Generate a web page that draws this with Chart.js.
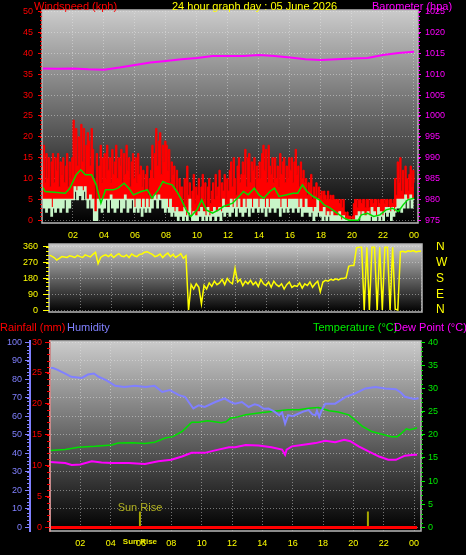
<!DOCTYPE html>
<html>
<head>
<meta charset="utf-8">
<script src="https://cdn.jsdelivr.net/npm/chart.js@4.4.1/dist/chart.umd.min.js"></script>
<style>
  html, body { margin: 0; padding: 0; background: #000; width: 466px; height: 555px; overflow: hidden; }
  canvas { position: absolute; left: 0; }
  .t { position: absolute; z-index: 2; font: 11px "Liberation Sans", Arial, sans-serif; line-height: 12px; white-space: nowrap; }
</style>
</head>
<body>
<canvas id="windChart" width="466" height="242" style="top:0"></canvas>
<canvas id="dirChart" width="466" height="74" style="top:242px"></canvas>
<canvas id="tempChart" width="466" height="239" style="top:316px"></canvas>

<div class="t" style="left:34px;top:0;color:#ff0000">Windspeed (kph)</div>
<div class="t" style="left:172px;top:0;color:#ffff00">24 hour graph day : 05 June 2026</div>
<div class="t" style="left:372px;top:0;color:#ff00ff">Barometer (hpa)</div>
<div class="t" style="left:0;top:321px;color:#ff0000">Rainfall (mm)</div>
<div class="t" style="left:67px;top:321px;color:#8080ff">Humidity</div>
<div class="t" style="left:313px;top:321px;color:#00ee00">Temperature (°C)</div>
<div class="t" style="left:394px;top:321px;color:#ff00ff">Dew Point (°C)</div>

<script>
// ====== Data ======
const hourTicks = [2, 4, 6, 8, 10, 12, 14, 16, 18, 20, 22, 24];
const hourLabels = ["02", "04", "06", "08", "10", "12", "14", "16", "18", "20", "22", "00"];

// gust, 5 minute samples, one row per hour (kph)
const gustKph = [
  13,18,9,16,10,15,8,14,16,9,15,12,
  16,8,14,11,15,9,13,16,8,14,10,15,
  24,11,22,13,20,12,23,14,22,11,18,21,
  19,13,22,17,10,5,16,7,13,18,9,15,
  16,10,18,12,15,9,17,11,14,18,10,15,
  13,17,9,16,11,18,12,15,8,14,16,10,
  15,9,16,11,13,8,12,7,11,13,6,10,
  12,18,10,16,22,13,19,21,11,18,14,19,
  18,12,17,9,14,11,13,7,12,6,10,8,
  8,4,10,3,13,6,9,3,7,11,4,8,
  6,10,4,8,11,5,9,3,8,10,4,7,
  9,5,11,6,8,12,4,9,7,11,5,10,
  7,12,14,8,15,10,6,13,15,9,11,14,
  11,17,8,15,16,9,14,12,15,7,13,10,
  14,10,16,18,12,17,9,18,13,11,15,9,
  15,10,13,8,16,11,14,15,9,13,10,15,
  12,15,9,14,17,11,13,8,14,10,12,9,
  10,6,9,7,11,5,8,6,9,5,8,6,
  7,5,7,6,5,7,5,6,5,6,5,5,
  5,5,4,5,3,5,2,1,2,1,1,0,
  1,4,5,5,3,5,5,4,5,5,3,5,
  5,3,5,5,4,5,5,3,5,4,5,5,
  5,4,5,5,3,5,5,4,5,10,6,14,
  9,15,7,12,6,13,10,7,11,13,8,12,
  9
];

// wind speed, 5 minute samples (kph)
const windKph = [
  5,3,5,2,5,3,5,1,3,5,2,5,
  3,5,2,5,3,5,5,2,5,3,5,5,
  5,8,7,5,8,6,8,5,7,8,5,3,
  5,6,3,5,0,2,0,5,3,5,2,5,
  3,5,5,2,5,6,3,5,2,5,3,5,
  5,2,5,3,6,5,2,5,3,5,5,2,
  3,5,2,5,3,1,5,3,2,5,3,2,
  5,3,5,6,5,3,6,5,5,3,5,2,
  5,3,2,5,1,3,2,1,3,0,2,1,
  2,0,3,1,0,2,5,1,0,2,0,1,
  0,2,1,3,0,2,1,0,3,1,0,2,
  1,3,0,2,1,3,0,2,5,1,3,2,
  3,1,5,2,3,5,1,3,5,2,3,1,
  5,2,3,5,1,5,3,2,5,3,5,2,
  3,5,2,5,3,1,5,3,2,5,3,5,
  2,5,3,5,1,3,5,2,5,3,2,5,
  3,5,2,5,3,5,2,3,5,1,3,2,
  5,2,3,1,3,2,0,3,1,5,2,1,
  2,0,3,1,0,2,1,0,2,0,1,0,
  1,0,2,0,0,1,0,0,0,0,0,0,
  0,0,0,1,0,2,1,0,2,0,1,0,
  2,0,1,3,0,2,0,1,3,0,2,1,
  0,2,3,1,3,2,0,3,1,2,3,5,
  3,5,2,5,3,6,5,3,5,6,3,5,
  5
];

// average wind [hour, kph]
const avgWind = [
  [0,8.1],[0.2,6.9],[0.8,6.7],[1.5,6.5],[1.8,7.7],[2.2,10.9],[2.5,12.1],[2.8,10.9],
  [3.2,10.9],[3.5,8.5],[3.8,4.1],[4.1,7.3],[4.6,7.3],[4.9,7.7],[5.3,8.9],[5.6,7.7],
  [5.9,6.1],[6.4,6.9],[6.8,7.3],[7.1,5.3],[7.5,7.3],[7.8,9.3],[8.0,8.9],[8.4,8.5],
  [8.7,6.9],[9.0,4.9],[9.3,2.5],[9.6,0.9],[10.0,2.5],[10.3,4.9],[10.6,2.5],[11.0,1.7],
  [11.4,2.5],[11.7,3.3],[12.0,3.7],[12.3,4.1],[12.6,5.3],[13.0,6.9],[13.3,6.1],[13.7,7.7],
  [14.0,6.1],[14.3,5.3],[14.7,6.9],[15.0,7.7],[15.3,5.7],[15.8,6.1],[16.2,6.5],[16.5,6.5],
  [16.8,8.5],[17.1,6.9],[17.5,5.7],[17.9,4.9],[18.2,3.7],[18.6,2.9],[18.9,2.1],[19.2,1.3],
  [19.5,0.5],[19.8,0],[20.4,0],[20.6,1.3],[21.0,1.7],[21.4,0.9],[21.8,1.3],[22.2,2.5],
  [22.6,2.9],[23.0,2.1],[23.3,3.7],[23.6,4.9],[24.0,5.3]
];

// barometer, hourly (hPa)
const baroHpa = [
  1011.4,1011.3,1011.4,1011.2,1011.1,1011.6,1012.2,1012.8,1013.2,1013.6,1013.9,1014.4,
  1014.4,1014.4,1014.6,1014.4,1014.0,1013.6,1013.4,1013.6,1013.8,1013.9,1014.6,1015.1,1015.4
];

// wind direction, 10 minute samples (degrees)
const windDir = [
  315,308,300,286,295,305,
  303,300,310,306,300,312,
  305,300,315,309,303,318,
  330,265,300,310,315,305,
  318,300,312,322,308,305,
  315,300,320,310,305,318,
  320,330,333,325,318,305,
  310,320,300,315,325,305,
  318,300,310,322,295,310,
  0,145,120,150,130,35,
  140,120,155,135,165,145,
  155,175,145,180,160,150,
  238,160,175,140,165,150,
  170,145,160,135,175,150,
  140,160,130,165,145,135,
  150,120,145,160,130,140,
  135,155,125,150,140,160,
  130,150,165,105,160,170,
  165,175,170,178,172,180,
  180,185,250,255,255,355,
  358,358,0,358,0,358,
  358,0,358,0,358,358,
  0,358,5,0,333,335,
  330,338,335,340,332,336,
  335
];
const dirTicks = [0, 90, 180, 270, 360];
const dirLetters = ["N", "E", "S", "W", "N"];

// [hour, value]
const humidity = [
  [0,86],[0.2,86],[0.5,85],[1.0,83],[1.4,81.3],[2.1,80.7],[2.5,82.5],[2.9,83.1],[3.2,81.3],
  [3.7,79.5],[4.3,76.4],[4.9,75.8],[5.6,76.4],[6.3,75.8],[6.9,76.4],[7.4,73.1],[7.9,74.1],
  [8.5,71.4],[8.9,70.5],[9.2,67],[9.45,64.2],[9.8,65.9],[10.2,65],[10.9,67.7],[11.5,69.6],
  [11.9,67.7],[12.2,66.8],[12.65,67.7],[13.1,65],[13.5,66.5],[13.76,65.9],[14.1,64],[14.4,64.2],
  [14.8,62.5],[15.1,60.6],[15.3,62],[15.5,56],[15.7,60.6],[16.0,60],[16.4,61.5],[16.7,62.5],
  [17.05,63.3],[17.3,61],[17.5,60.6],[17.6,63],[17.75,59.7],[17.9,63],[18.15,66.8],[18.8,66.8],
  [19.5,70.5],[20.1,72.3],[20.8,75],[21.45,75.8],[22.1,75],[22.8,74.6],[23.1,73],[23.4,70.5],
  [24.0,69.3],[24.3,69.7]
];
const temperature = [
  [0,16.6],[1.0,16.8],[1.87,17.3],[2.97,17.5],[4.07,17.8],[4.5,18.2],[5.4,18.3],[6.26,18.1],
  [6.9,18.4],[7.6,19.3],[8.1,19.6],[8.7,20.7],[9.0,21.6],[9.34,22.7],[9.8,22.7],[10.4,23.0],
  [11.3,22.6],[11.6,22.8],[11.9,23.6],[12.2,23.7],[12.9,24.3],[13.76,24.7],[14.6,25.0],[15.7,25.4],
  [16.4,25.4],[17.05,25.7],[17.7,25.9],[18.4,25.2],[19.0,24.9],[19.7,24.3],[20.1,23.2],[20.6,21.8],
  [21.2,20.7],[21.9,20.1],[22.5,19.6],[22.9,19.6],[23.2,20.4],[23.5,21.3],[23.7,21.1],[24.0,21.3],
  [24.2,21.5]
];
const dewPoint = [
  [0,14.1],[1.0,13.9],[1.43,13.5],[2.0,13.6],[2.75,14.3],[3.4,14.0],[4.07,13.9],[5.2,13.9],
  [6.26,13.7],[7.14,14.3],[8.0,14.6],[8.7,15.3],[9.34,16.1],[10.2,16.1],[11.1,16.8],[11.8,17.3],
  [12.2,17.3],[12.9,17.8],[13.76,17.7],[14.6,17.3],[15.3,16.8],[15.5,15.7],[15.6,16.8],[15.95,17.5],
  [16.6,17.8],[17.5,18.2],[18.15,18.7],[18.8,18.4],[19.4,18.9],[19.8,18.6],[20.35,17.5],[21.0,16.4],
  [21.7,15.3],[22.3,14.6],[22.8,14.6],[23.4,15.5],[24.0,15.7],[24.2,15.7]
];
const rainfall = [[0,0],[24.2,0]];
const sunHours = [5.93, 20.96];   // sun rise, sun set
const sunMarkMm = 2.6;

// ====== Helpers ======
const every = (vals, minutes) => vals.map((v, i) => ({ x: i * minutes / 60, y: v }));
const pairs = list => list.map(([x, y]) => ({ x, y }));
const steps = (from, to, by) => { const out = []; for (let v = from; v <= to; v += by) out.push(v); return out; };
// keep label overhang from shrinking the plot areas
const noPad = s => { s.paddingTop = 0; s.paddingBottom = 0; s.paddingLeft = 0; s.paddingRight = 0; };

const tickFont = { family: "Liberation Sans", size: 9 };
const gridColor = "rgba(235,235,235,0.45)";

const minorTicks = {
  windChart: [
    { id: "y", step: 1, len: 2, color: "#ff0000" },
    { id: "yBaro", step: 1, len: 2, color: "#ff00ff" }
  ],
  dirChart: [{ id: "yDir", step: 22.5, len: 3, color: "#ffff00" }],
  tempChart: [
    { id: "yHum", step: 2, len: 3, color: "#8080ff" },
    { id: "yRain", step: 1, len: 3, color: "#ff0000" },
    { id: "yTemp", step: 1, len: 2, color: "#00ee00" }
  ]
};

// ====== Panel background / frame ======
const panel = {
  id: "panel",
  beforeDraw(chart) {
    const { ctx, chartArea: a } = chart;
    const g = ctx.createLinearGradient(0, a.top, 0, a.bottom);
    g.addColorStop(0, "#cbcbcb");
    g.addColorStop(1, "#000000");
    ctx.save();
    ctx.fillStyle = g;
    ctx.fillRect(a.left, a.top, a.right - a.left, a.bottom - a.top);
    ctx.restore();
  },
  afterDraw(chart) {
    const { ctx, chartArea: a } = chart;
    ctx.save();
    ctx.strokeStyle = "#b8b8b8";
    ctx.lineWidth = 1.5;
    ctx.strokeRect(a.left, a.top, a.right - a.left, a.bottom - a.top);
    (minorTicks[chart.canvas.id] || []).forEach(m => {
      const s = chart.scales[m.id];
      const left = s.position === "left";
      const x0 = left ? s.right : s.left;
      ctx.strokeStyle = m.color;
      ctx.lineWidth = 1;
      for (let v = Math.ceil(s.min / m.step) * m.step; v <= s.max; v += m.step) {
        const y = Math.round(s.getPixelForValue(v)) + 0.5;
        ctx.beginPath();
        ctx.moveTo(x0, y);
        ctx.lineTo(x0 + (left ? -m.len : m.len), y);
        ctx.stroke();
      }
    });
    ctx.restore();
  }
};

// ====== Sun rise label ======
const sunLabel = {
  id: "sunLabel",
  afterDraw(chart) {
    const { ctx, scales } = chart;
    const x = scales.x.getPixelForValue(sunHours[0]);
    ctx.save();
    ctx.textAlign = "center";
    ctx.textBaseline = "middle";
    ctx.fillStyle = "#b0b020";
    ctx.font = "11px 'Liberation Sans'";
    ctx.fillText("Sun Rise", x, scales.yRain.getPixelForValue(sunMarkMm) - 3);
    ctx.fillStyle = "#e8e800";
    ctx.font = "bold 8px 'Liberation Sans'";
    ctx.fillText("Sun Rise", x, chart.chartArea.bottom + 11);
    ctx.restore();
  }
};

// ====== Axis builders ======
function hourAxis(max, height, pad, showLabels) {
  return {
    type: "linear", min: 0, max: max,
    afterBuildTicks: s => { s.ticks = hourTicks.map(v => ({ value: v })); },
    afterFit: s => { s.height = height; noPad(s); },
    grid: { color: gridColor, drawTicks: false },
    border: { display: false, dash: [1, 2] },
    ticks: {
      display: showLabels, color: "#ffff00", font: tickFont, padding: pad,
      maxRotation: 0, autoSkip: false, callback: v => hourLabels[hourTicks.indexOf(v)]
    }
  };
}

function valueAxis(o) {
  return {
    type: "linear", position: o.pos, min: o.min, max: o.max, weight: o.weight || 0,
    afterBuildTicks: s => { s.ticks = o.ticks.map(v => ({ value: v })); },
    afterFit: s => { s.width = o.width; noPad(s); },
    grid: {
      drawOnChartArea: !!o.grid, color: gridColor, tickColor: o.color,
      tickLength: o.tickLen || 0, drawTicks: !!o.tickLen, tickBorderDash: []
    },
    border: { display: !!o.line, color: o.color, width: 2, dash: [1, 2] },
    ticks: {
      color: o.color, font: o.font || tickFont, padding: o.pad, autoSkip: false,
      callback: o.label || (v => v)
    }
  };
}

const base = {
  responsive: false, animation: false, devicePixelRatio: 1,
  elements: { point: { radius: 0 }, line: { tension: 0 } },
  plugins: { legend: { display: false }, tooltip: { enabled: false } }
};

// ====== Wind + barometer ======
new Chart(document.getElementById("windChart"), {
  type: "line",
  data: {
    datasets: [
      { label: "Barometer", data: every(baroHpa, 60), yAxisID: "yBaro", borderColor: "#ff00ff", borderWidth: 2, order: 0 },
      { label: "Average", data: pairs(avgWind), yAxisID: "y", borderColor: "#00dd00", borderWidth: 1.5, order: 1 },
      { label: "Wind", data: every(windKph, 5), yAxisID: "y", borderColor: "#c8f5c8", borderWidth: 1.5, stepped: true, order: 2 },
      { label: "Gust", data: every(gustKph, 5), yAxisID: "y", borderColor: "#ff0000", backgroundColor: "#ff0000",
        borderWidth: 1, stepped: true, fill: 2, order: 3 }
    ]
  },
  options: {
    ...base,
    layout: { padding: { top: 10, left: 0, right: 0, bottom: 0 }, autoPadding: false },
    scales: {
      x: hourAxis(24.26, 19, 7, true),
      y: valueAxis({ pos: "left", min: -0.65, max: 50.41, ticks: steps(0, 50, 5), width: 42, color: "#ff0000", tickLen: 4, pad: 5, grid: true }),
      yBaro: valueAxis({ pos: "right", min: 974.35, max: 1025.41, ticks: steps(975, 1025, 5), width: 48, color: "#ff00ff", tickLen: 3, pad: 4 })
    }
  },
  plugins: [panel]
});

// ====== Wind direction ======
new Chart(document.getElementById("dirChart"), {
  type: "line",
  data: {
    datasets: [
      { label: "Direction", data: every(windDir, 10), yAxisID: "yDir", borderColor: "#ffff00", borderWidth: 1.5 }
    ]
  },
  options: {
    ...base,
    layout: { padding: { top: 2, left: 0, right: 0, bottom: 0 }, autoPadding: false },
    scales: {
      x: hourAxis(24.06, 4, 0, false),
      yDir: valueAxis({ pos: "left", min: -11, max: 377, ticks: dirTicks, width: 49, color: "#ffff00", tickLen: 6, pad: 5, grid: true }),
      yLetter: valueAxis({ pos: "right", min: -11, max: 377, ticks: dirTicks, width: 44, color: "#ffff00", pad: 14,
        font: { family: "Liberation Sans", size: 12 }, label: v => dirLetters[dirTicks.indexOf(v)] })
    }
  },
  plugins: [panel]
});

// ====== Temperature / humidity / rain ======
const sunMarks = sunHours.flatMap(h => [{ x: h, y: 0 }, { x: h, y: sunMarkMm }, { x: h, y: null }]);

new Chart(document.getElementById("tempChart"), {
  type: "line",
  data: {
    datasets: [
      { label: "Rainfall", data: pairs(rainfall), yAxisID: "yRain", borderColor: "#ff0000", borderWidth: 3 },
      { label: "Sun", data: sunMarks, yAxisID: "yRain", borderColor: "#a8a800", borderWidth: 2, spanGaps: false },
      { label: "Humidity", data: pairs(humidity), yAxisID: "yHum", borderColor: "#8080ff", borderWidth: 2 },
      { label: "Temperature", data: pairs(temperature), yAxisID: "yTemp", borderColor: "#00e000", borderWidth: 1.5 },
      { label: "Dew Point", data: pairs(dewPoint), yAxisID: "yTemp", borderColor: "#ff00ff", borderWidth: 2 }
    ]
  },
  options: {
    ...base,
    layout: { padding: { top: 25, left: 0, right: 0, bottom: 0 }, autoPadding: false },
    scales: {
      x: hourAxis(24.46, 24, 7, true),
      yHum: valueAxis({ pos: "left", weight: 1, min: -1.9, max: 100.6, ticks: steps(0, 100, 10), width: 30, color: "#8080ff", tickLen: 5, pad: 3, grid: true, line: true }),
      yRain: valueAxis({ pos: "left", weight: 0, min: -0.57, max: 30.17, ticks: steps(0, 30, 5), width: 20, color: "#ff0000", tickLen: 5, pad: 3, line: true }),
      yTemp: valueAxis({ pos: "right", min: -0.76, max: 40.23, ticks: steps(0, 40, 5), width: 45, color: "#00ee00", tickLen: 4, pad: 3 })
    }
  },
  plugins: [panel, sunLabel]
});
</script>
</body>
</html>
